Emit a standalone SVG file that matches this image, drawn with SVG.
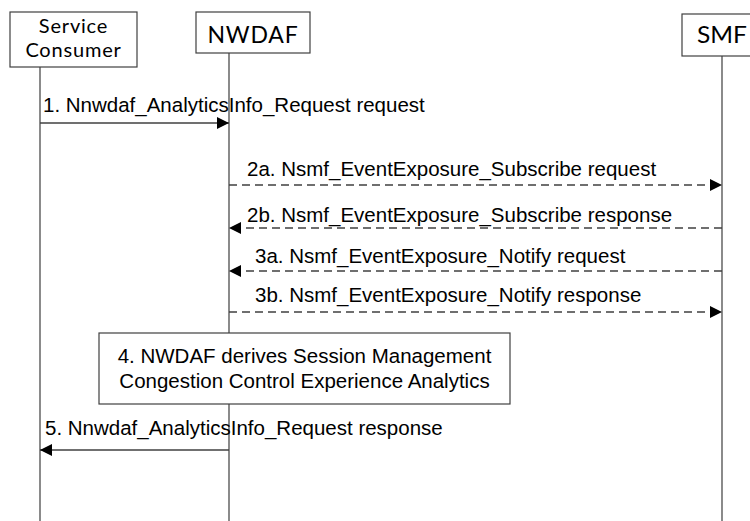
<svg xmlns="http://www.w3.org/2000/svg" width="750" height="521" viewBox="0 0 750 521">
<defs>
<style>
.box{fill:#fff;stroke:#404040;stroke-width:1.2}
.life{stroke:#595959;stroke-width:1.4;fill:none}
.msg{stroke:#404040;stroke-width:1.3;fill:none}
.dash{stroke-dasharray:8,5}
.hdr{font-family:Lato,"Open Sans",sans-serif;fill:#000}
.lbl{font-family:"Liberation Sans",Arial,sans-serif;font-size:20.5px;fill:#000}
</style>
<marker id="ah" viewBox="0 0 12 12" refX="12" refY="6" markerWidth="12" markerHeight="12" markerUnits="userSpaceOnUse" orient="auto">
<path d="M0,0 L12,6 L0,12 Z" fill="#000"/>
</marker>
</defs>
<rect width="750" height="521" fill="#fff"/>
<g id="lifelines">
<line class="life" x1="40" y1="67" x2="40" y2="521"/>
<line class="life" x1="229" y1="53" x2="229" y2="521"/>
<line class="life" x1="722" y1="56" x2="722" y2="521"/>
</g>
<g id="consumer">
<rect class="box" x="10" y="12" width="127" height="55"/>
<text class="hdr" x="73.5" y="33" font-size="20" text-anchor="middle" letter-spacing="0.8">Service</text>
<text class="hdr" x="73.5" y="57" font-size="20" text-anchor="middle" letter-spacing="0.8">Consumer</text>
</g>
<g id="nwdaf">
<rect class="box" x="196" y="12" width="114" height="41"/>
<text class="hdr" x="253" y="43" font-size="23" text-anchor="middle" letter-spacing="0.8">NWDAF</text>
</g>
<g id="smf">
<rect class="box" x="682" y="14" width="80" height="42"/>
<text class="hdr" x="697" y="43" font-size="23" textLength="50" lengthAdjust="spacingAndGlyphs">SMF</text>
</g>
<g id="connectors">
<line class="msg" x1="40" y1="123" x2="229" y2="123" marker-end="url(#ah)"/>
<text class="lbl" x="43" y="112">1. Nnwdaf_AnalyticsInfo_Request request</text>
<line class="msg dash" x1="229" y1="185" x2="722" y2="185" marker-end="url(#ah)"/>
<text class="lbl" x="247" y="176">2a. Nsmf_EventExposure_Subscribe request</text>
<line class="msg dash" x1="722" y1="228" x2="229" y2="228" marker-end="url(#ah)"/>
<text class="lbl" x="247" y="222">2b. Nsmf_EventExposure_Subscribe response</text>
<line class="msg dash" x1="722" y1="271" x2="229" y2="271" marker-end="url(#ah)"/>
<text class="lbl" x="255" y="263">3a. Nsmf_EventExposure_Notify request</text>
<line class="msg dash" x1="229" y1="312" x2="722" y2="312" marker-end="url(#ah)"/>
<text class="lbl" x="255" y="302">3b. Nsmf_EventExposure_Notify response</text>
<line class="msg" x1="229" y1="450" x2="40" y2="450" marker-end="url(#ah)"/>
<text class="lbl" x="45" y="435">5. Nnwdaf_AnalyticsInfo_Request response</text>
</g>
<g id="step4">
<rect class="box" x="99" y="333" width="411" height="71"/>
<text class="lbl" x="304.5" y="363" text-anchor="middle">4. NWDAF derives Session Management</text>
<text class="lbl" x="304.5" y="388" text-anchor="middle">Congestion Control Experience Analytics</text>
</g>
</svg>
